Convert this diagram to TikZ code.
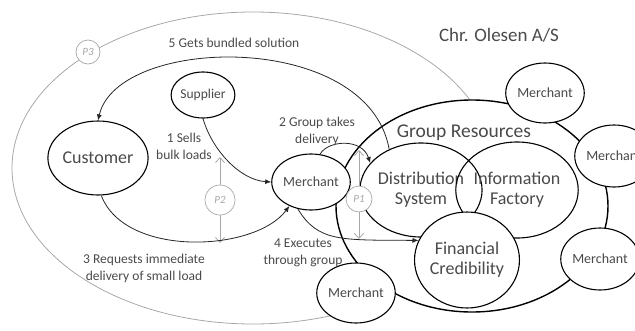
\documentclass[tikz,border=0pt]{standalone}
\usepackage{fontspec}
\setmainfont{Carlito}
\usetikzlibrary{shapes.geometric,arrows.meta}
\definecolor{txt}{HTML}{4A4A4A}
\definecolor{lite}{HTML}{A8A8A8}
\tikzset{
  ring/.style={ellipse,draw=black,line width=1.1pt,fill=white,inner sep=0pt,text=txt,align=center},
  lbl/.style={text=txt,font=\fontsize{13.5}{17}\selectfont,align=center,inner sep=0pt},
  pcirc/.style={circle,draw=lite,line width=0.7pt,fill=white,inner sep=0pt,text=lite,font=\fontsize{11}{12}\selectfont\itshape},
  arr/.style={draw=black!85,line width=0.8pt,-{Latex[length=6pt,width=5pt]}},
  parr/.style={draw=lite,line width=0.8pt,-{Straight Barb[length=5pt,width=9pt]}}
}
\begin{document}
\begin{tikzpicture}[x=1pt,y=-1pt]
\useasboundingbox (0,0) rectangle (635,330);
% outer light ellipse
\node[ellipse,draw=lite,line width=0.8pt,minimum width=482pt,minimum height=312pt,inner sep=0pt] (outer) at (253,168) {};
\node[pcirc,minimum size=24pt] (p3) at (88,52) {P3};
% group resources
\node[ellipse,draw=black,line width=1.4pt,fill=white,minimum width=272pt,minimum height=212pt,inner sep=0pt] (group) at (472,206) {};
% inner resources
\node[ring,minimum width=102pt,minimum height=94pt,font=\fontsize{18}{20}\selectfont] (dist) at (421,190) {Distribution\\System};
\node[ring,fill=none,minimum width=100pt,minimum height=96pt,font=\fontsize{18}{20}\selectfont] (info) at (517,190) {Information\\Factory};
\node[ring,minimum width=104pt,minimum height=96pt,font=\fontsize{18}{20}\selectfont] (fin) at (467,260) {Financial\\Credibility};
% merchants on the ring
\node[ring,minimum width=64pt,minimum height=60pt,font=\fontsize{14}{16}\selectfont] (mt) at (545,93) {Merchant};
\node[ring,minimum width=62pt,minimum height=62pt,font=\fontsize{14}{16}\selectfont] (mr) at (614,156) {Merchant};
\node[ring,minimum width=62pt,minimum height=62pt,font=\fontsize{14}{16}\selectfont] (mrl) at (600,259) {Merchant};
\node[ring,minimum width=66pt,minimum height=60pt,font=\fontsize{14}{16}\selectfont] (mb) at (356,293) {Merchant};
% main actors
\node[ring,minimum width=62pt,minimum height=56pt,font=\fontsize{14}{16}\selectfont] (m) at (311,182) {Merchant};
\node[ring,minimum width=74pt,minimum height=74pt,font=\fontsize{18}{20}\selectfont] (cust) at (98,158) {Customer};
\node[ring,minimum width=52pt,minimum height=46pt,font=\fontsize{13.5}{15}\selectfont] (sup) at (203,95) {Supplier};
% titles
\node[text=txt,font=\fontsize{19}{21}\selectfont,inner sep=0pt] (title) at (499,35) {Chr. Olesen A/S};
\node[text=txt,font=\fontsize{19.5}{21}\selectfont,inner sep=0pt] (grt) at (464,133) {Group Resources};
% P markers
\node[pcirc,minimum size=30pt] (p2) at (220,200) {P2};
\node[pcirc,minimum size=26pt] (p1) at (359,199) {P1};
\coordinate (p2t) at (220,157);
\coordinate (p2b) at (220,243);
\coordinate (p1t) at (359,150);
\coordinate (p1b) at (359,239);
\draw[parr] (p2) -- (p2t);
\draw[parr] (p2) -- (p2b);
\draw[parr] (p1) -- (p1t);
\draw[parr] (p1) -- (p1b);
% flows
\draw[arr] (dist.128) .. controls (368,30) and (118,35) .. (cust.north);
\draw[arr] (sup.south) .. controls (212,150) and (240,180) .. (m.west);
\draw[arr] (cust.-85) .. controls (125,258) and (255,252) .. (m.228);
\draw[arr] (m.244) .. controls (318,242) and (340,240) .. (fin.158);
\draw[arr] (m.72) .. controls (328,140) and (362,138) .. (dist.152);
% labels
\node[lbl] (l5) at (234,43) {5 Gets bundled solution};
\node[lbl] (l1) at (184,146) {1 Sells\\bulk loads};
\node[lbl] (l2) at (317,131) {2 Group takes\\delivery};
\node[lbl] (l3) at (144,268) {3 Requests immediate\\delivery of small load};
\node[lbl] (l4) at (303,253) {4 Executes\\through group};
\end{tikzpicture}
\end{document}
